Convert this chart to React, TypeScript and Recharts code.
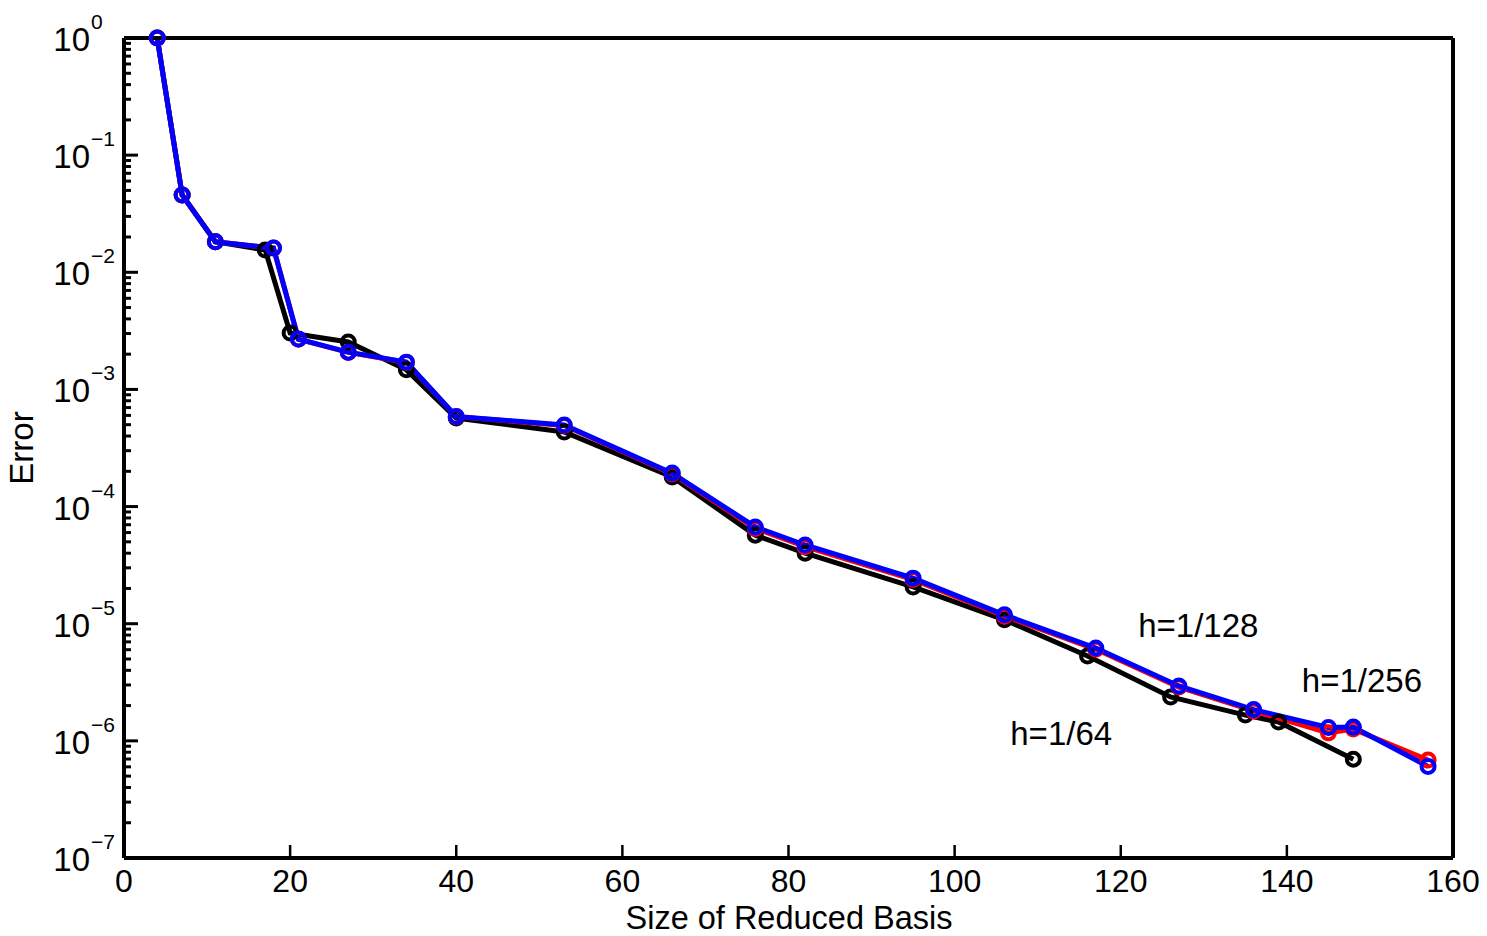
import React from "react";
import { LineChart, Line, XAxis, YAxis, ReferenceDot } from "recharts";

const FONT = '"Liberation Sans", Arial, Helvetica, sans-serif';

// axis ticks
const xTicks = [0, 20, 40, 60, 80, 100, 120, 140, 160];
const decades = [-7, -6, -5, -4, -3, -2, -1, 0];
const mantissas = [1, 2, 3, 4, 5, 6, 7, 8, 9];

// h=1/64 (black)
const h64X = [4, 7, 11, 17, 20, 27, 34, 40, 53, 66, 76, 82, 95, 106, 116, 126, 135, 139, 148];
const h64Y = [
  1, 0.0457, 0.0182, 0.0155, 0.00303, 0.00254, 0.00147, 0.00057, 0.000433, 0.000179,
  5.7e-5, 4.0e-5, 2.06e-5, 1.08e-5, 5.3e-6, 2.37e-6, 1.66e-6, 1.45e-6, 6.98e-7,
];

// h=1/128 (red)
const h128X = [4, 7, 11, 18, 21, 27, 34, 40, 53, 66, 76, 82, 95, 106, 117, 127, 136, 145, 148, 157];
const h128Y = [
  1, 0.0457, 0.0182, 0.0161, 0.00268, 0.00207, 0.0017, 0.000585, 0.000492, 0.00019,
  6.5e-5, 4.55e-5, 2.38e-5, 1.16e-5, 6.05e-6, 2.88e-6, 1.8e-6, 1.17e-6, 1.26e-6, 6.87e-7,
];

// h=1/256 (blue)
const h256X = [4, 7, 11, 18, 21, 27, 34, 40, 53, 66, 76, 82, 95, 106, 117, 127, 136, 145, 148, 157];
const h256Y = [
  1, 0.0457, 0.0182, 0.0161, 0.00269, 0.00208, 0.00171, 0.000587, 0.000497, 0.000193,
  6.7e-5, 4.7e-5, 2.45e-5, 1.19e-5, 6.2e-6, 2.94e-6, 1.85e-6, 1.3e-6, 1.31e-6, 6.04e-7,
];

const labels = [
  { text: "h=1/128", x: 122.1, y: 7.7e-6 },
  { text: "h=1/256", x: 141.8, y: 2.61e-6 },
  { text: "h=1/64", x: 106.7, y: 9.2e-7 },
];

const toPoints = (xs: number[], ys: number[]) => xs.map((x, i) => ({ x, y: ys[i] }));

const yTicks: number[] = [];
decades.forEach((e) => {
  if (e === 0) yTicks.push(1);
  else mantissas.forEach((m) => yTicks.push(m * Math.pow(10, e)));
});

const isMajor = (v: number) => {
  const l = Math.log10(v);
  return Math.abs(l - Math.round(l)) < 1e-6;
};

const LeftTick = (props: any) => {
  const { x, y, payload } = props;
  const v = payload.value;
  const major = isMajor(v);
  const e = Math.round(Math.log10(v));
  return (
    <g>
      <line x1={x} x2={x + (major ? 14 : 7)} y1={y} y2={y} stroke="#000" strokeWidth={3} />
      {major && (
        <>
          <text x={x - 34} y={y + 13} textAnchor="end" fontSize={33} fontFamily={FONT} fill="#000">
            10
          </text>
          <text x={x - 33} y={y - 9} textAnchor="start" fontSize={21} fontFamily={FONT} fill="#000">
            {e === 0 ? "0" : `\u2212${-e}`}
          </text>
        </>
      )}
    </g>
  );
};

const RightTick = (props: any) => {
  const { x, y, payload } = props;
  const major = isMajor(payload.value);
  return <line x1={x} x2={x - (major ? 14 : 7)} y1={y} y2={y} stroke="#000" strokeWidth={3} />;
};

const BottomTick = (props: any) => {
  const { x, y, payload } = props;
  return (
    <g>
      <line x1={x} x2={x} y1={y} y2={y - 13} stroke="#000" strokeWidth={2.5} />
      <text x={x} y={y + 34} textAnchor="middle" fontSize={32} fontFamily={FONT} fill="#000">
        {payload.value}
      </text>
    </g>
  );
};

const TopTick = (props: any) => {
  const { x, y } = props;
  return <line x1={x} x2={x} y1={y} y2={y + 13} stroke="#000" strokeWidth={2.5} />;
};

const App: React.FC = () => {
  const dotStyle = (c: string) => ({ r: 6.5, stroke: c, strokeWidth: 4, fill: "none" });
  const axisLine = { stroke: "#000", strokeWidth: 4 };

  return (
    <div style={{ position: "absolute", left: 0, top: 0, width: 1487, height: 936, background: "#fff" }}>
      <LineChart width={1487} height={936} margin={{ top: 28, right: 24, bottom: 18, left: 54 }}>
        <XAxis
          dataKey="x"
          type="number"
          domain={[0, 160]}
          ticks={xTicks}
          interval={0}
          height={60}
          tickSize={0}
          tickMargin={0}
          tickLine={false}
          axisLine={axisLine}
          tick={<BottomTick />}
        />
        <XAxis
          xAxisId="top"
          orientation="top"
          dataKey="x"
          type="number"
          domain={[0, 160]}
          ticks={xTicks}
          interval={0}
          height={10}
          tickSize={0}
          tickMargin={0}
          tickLine={false}
          axisLine={axisLine}
          tick={<TopTick />}
        />
        <YAxis
          type="number"
          scale="log"
          domain={[1e-7, 1]}
          ticks={yTicks}
          interval={0}
          width={70}
          tickSize={0}
          tickMargin={0}
          tickLine={false}
          axisLine={axisLine}
          tick={<LeftTick />}
        />
        <YAxis
          yAxisId="right"
          orientation="right"
          type="number"
          scale="log"
          domain={[1e-7, 1]}
          ticks={yTicks}
          interval={0}
          width={10}
          tickSize={0}
          tickMargin={0}
          tickLine={false}
          axisLine={axisLine}
          tick={<RightTick />}
        />
        <Line
          data={toPoints(h64X, h64Y)}
          dataKey="y"
          stroke="#000000"
          strokeWidth={5}
          dot={dotStyle("#000000")}
          activeDot={false}
          isAnimationActive={false}
        />
        <Line
          data={toPoints(h128X, h128Y)}
          dataKey="y"
          stroke="#ff0000"
          strokeWidth={5}
          dot={dotStyle("#ff0000")}
          activeDot={false}
          isAnimationActive={false}
        />
        <Line
          data={toPoints(h256X, h256Y)}
          dataKey="y"
          stroke="#0000ff"
          strokeWidth={5}
          dot={dotStyle("#0000ff")}
          activeDot={false}
          isAnimationActive={false}
        />
        {labels.map((l) => (
          <ReferenceDot
            key={l.text}
            x={l.x}
            y={l.y}
            r={0}
            shape={(p: any) => (
              <text x={p.cx} y={p.cy} fontSize={33} fontFamily={FONT} fill="#000">
                {l.text}
              </text>
            )}
          />
        ))}
      </LineChart>
      <svg
        width={1487}
        height={936}
        style={{ position: "absolute", left: 0, top: 0, pointerEvents: "none" }}
      >
        <text x={789} y={928.5} textAnchor="middle" fontSize={32.5} fontFamily={FONT} fill="#000">
          Size of Reduced Basis
        </text>
        <text
          x={33}
          y={448}
          textAnchor="middle"
          fontSize={33}
          fontFamily={FONT}
          fill="#000"
          transform="rotate(-90 33 448)"
        >
          Error
        </text>
      </svg>
    </div>
  );
};

export default App;
